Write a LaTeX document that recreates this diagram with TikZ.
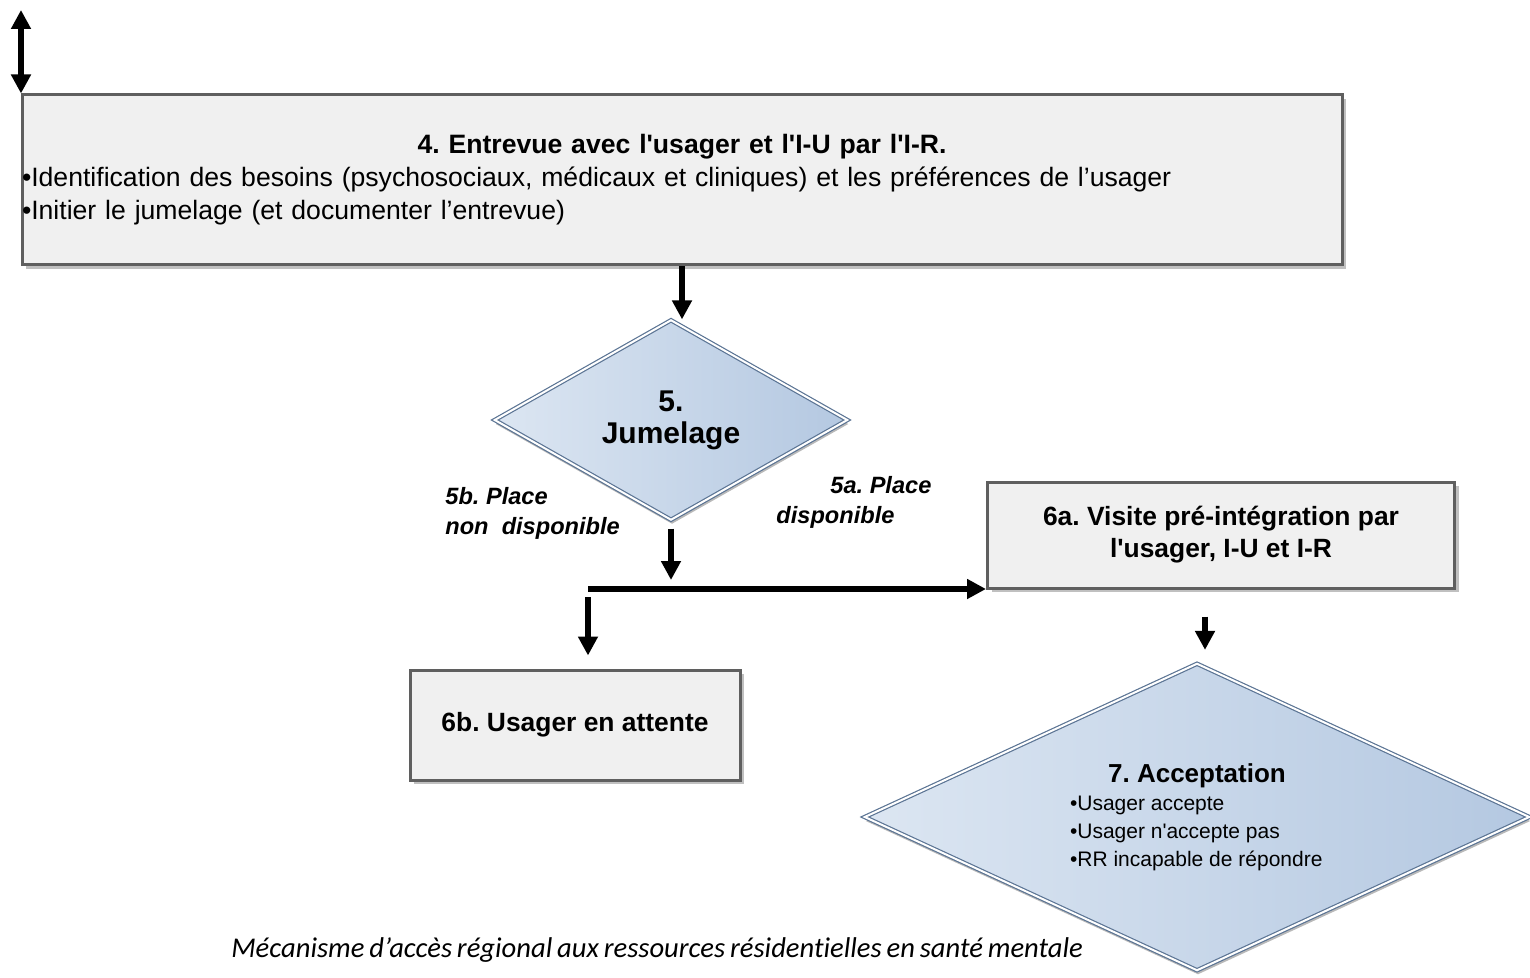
\documentclass[tikz,border=0pt]{standalone}
\usepackage{fontspec}
\newfontfamily\arial{Liberation Sans}
\newfontfamily\capfont{Carlito}[Ligatures=CommonOff]
\usetikzlibrary{shapes.geometric,arrows.meta,shadows}
\newlength{\pxu}\setlength{\pxu}{0.5pt}
\newcommand\tightsp{\spaceskip=0.17em\relax}
\definecolor{boxfill}{HTML}{F0F0F0}
\definecolor{boxline}{HTML}{5F5F5F}
\definecolor{boxshade}{HTML}{C0C0C0}
\definecolor{dialight}{HTML}{DCE6F2}
\definecolor{diadark}{HTML}{B4C8E1}
\definecolor{dialine}{HTML}{5B7494}

\begin{document}
\frenchspacing
\begin{tikzpicture}[x=\pxu,y=-\pxu,
>={Triangle[length=9.5pt,width=9.5pt]},
box/.style={%
draw=boxline,
line width=1.5pt,
fill=boxfill,
drop shadow={shadow xshift=2pt,shadow yshift=-2pt,fill=boxshade,opacity=1},
inner sep=0pt,
font=\arial\bfseries\fontsize{13.2}{16}\selectfont,
align=center,
},
dia/.style={%
shape=diamond,
draw=dialine,
double=white,
double distance=1pt,
line width=.6pt,
left color=dialight,
right color=diadark,
drop shadow={shadow xshift=.5pt,shadow yshift=-2pt,fill=gray!55,opacity=1},
inner sep=0pt,
align=center,
},
arr/.style={%
line width=2.8pt,
->,
},
lab/.style={%
font=\arial\bfseries\itshape\fontsize{11.8}{15}\selectfont,
align=left,
anchor=north west,
inner sep=0pt,
},
]
\useasboundingbox(0,0)rectangle(1530,978);
%% 4. Entrevue
\node[box,minimum width=1320\pxu,minimum height=170\pxu,text width=1320\pxu,align=left,font=\arial\fontsize{13.3}{16.5}\selectfont]at(682,180)(b4){\makebox[\hsize]{\bfseries 4. Entrevue avec l'usager et l'I-U par l'I-R.}\\•Identification des besoins (psychosociaux, médicaux et cliniques) et les préférences de l’usager\\•Initier le jumelage (et documenter l’entrevue)};
\coordinate(top)at(21,10);
\draw[arr,<->](top)--(top|-b4.north west);
%% 5. Jumelage
\node[dia,aspect=1.77,minimum width=353\pxu,minimum height=200\pxu,font=\arial\bfseries\fontsize{15}{16}\selectfont]at(671,420)(d5){5.\\Jumelage};
\node[lab]at(445,487)(l5b){5b. Place\\non\ \ disponible};
\node[lab]at(776,476)(l5a){\hspace*{54\pxu}5a. Place\\disponible};
\draw[arr](b4.south)--(b4.south|-d5.north);
%% 6a / 6b
\node[box,minimum width=467\pxu,minimum height=106\pxu]at(1221,535)(b6a){6a. Visite pré-intégration par\\l'usager, I-U et I-R};
\node[box,minimum width=330\pxu,minimum height=110\pxu]at(575,725)(b6b){6b. Usager en attente};
\coordinate(split)at(588,589);
\draw[arr,shorten <=8\pxu,shorten >=9\pxu](d5.south)--(d5.south|-split);
\draw[arr](split)--(split-|b6a.west);
\draw[arr,shorten <=8\pxu,shorten >=13\pxu](split)--(split|-b6b.north);
%% 7. Acceptation
\node[dia,aspect=2.17,minimum width=665\pxu,minimum height=307\pxu,align=left,font=\arial\fontsize{10.5}{14}\selectfont]at(1197,817)(d7){\makebox[254\pxu]{\bfseries\fontsize{13}{15}\selectfont 7. Acceptation}\\•Usager accepte\\•Usager n'accepte pas\\•RR incapable de répondre};
\draw[arr,shorten <=27\pxu,shorten >=13\pxu]([xshift=-16\pxu]b6a.south)--([xshift=-16\pxu]b6a.south|-d7.north);
%% caption
\node[font=\capfont\itshape\fontsize{14.3}{16}\selectfont\tightsp]at(657,950)(cap){Mécanisme d’accès régional aux ressources résidentielles en santé mentale};
\end{tikzpicture}
\end{document}
